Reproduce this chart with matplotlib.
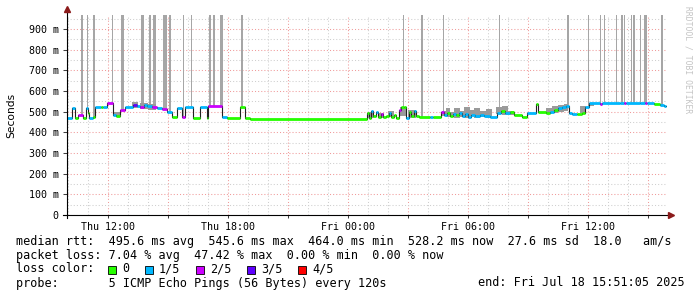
import numpy as np
import matplotlib.pyplot as plt
from matplotlib.patches import Rectangle
from matplotlib.lines import Line2D

# time in hours since Thu 00:00, median rtt in ms, loss level (lost pings out of 5)
seg_start = [9.94, 10.19, 10.34, 10.49, 10.74, 10.89, 10.96, 11.04, 11.24, 11.34,
             11.64, 11.74, 11.94, 12.24, 12.39, 12.59, 12.84, 13.24, 13.44, 13.59,
             13.79, 13.94, 14.19, 14.44, 14.69, 14.94, 15.19, 15.44, 15.69, 15.84,
             16.24, 16.59, 16.94, 16.99, 17.69, 17.94, 18.59, 18.84, 19.09, 24.94,
             25.04, 25.14, 25.24, 25.39, 25.49, 25.64, 25.74, 25.89, 26.04, 26.14,
             26.29, 26.39, 26.54, 26.64, 26.79, 26.89, 27.04, 27.14, 27.29, 27.39,
             27.54, 28.09, 28.24, 28.64, 28.79, 28.94, 29.09, 29.24, 29.39, 29.54,
             29.69, 29.84, 29.99, 30.14, 30.34, 30.59, 30.79, 31.09, 31.44, 31.64,
             31.84, 32.09, 32.29, 32.69, 32.94, 33.39, 33.49, 33.89, 34.09, 34.29,
             34.49, 34.69, 34.89, 35.04, 35.19, 35.44, 35.69, 35.84, 36.04, 36.59,
             36.69, 37.59, 37.79, 37.89, 38.59, 38.84, 38.94, 39.29, 39.59, 39.79]
seg_rtt = [468, 517, 468, 484, 468, 517, 493, 470, 475, 521,
           521, 521, 540, 484, 478, 508, 524, 532, 528, 524,
           530, 528, 522, 517, 512, 498, 473, 517, 473, 524,
           468, 520, 468, 527, 473, 468, 520, 468, 465, 495,
           470, 505, 478, 500, 472, 490, 472, 480, 495, 475,
           485, 470, 510, 524, 520, 470, 500, 480, 505, 478,
           473, 475, 473, 500, 482, 495, 478, 490, 482, 495,
           478, 490, 475, 485, 480, 485, 478, 475, 495, 505,
           495, 500, 484, 476, 492, 535, 500, 495, 500, 510,
           515, 520, 525, 493, 490, 488, 495, 520, 540, 538,
           540, 541, 540, 541, 540, 542, 540, 535, 533, 525]
seg_loss = [1, 1, 0, 2, 0, 1, 0, 1, 0, 1,
            0, 1, 2, 1, 0, 2, 1, 3, 1, 2,
            1, 1, 2, 1, 2, 1, 0, 1, 2, 1,
            0, 1, 0, 2, 1, 0, 0, 0, 0, 0,
            0, 1, 0, 1, 0, 2, 0, 0, 1, 0,
            0, 0, 2, 0, 0, 1, 0, 0, 1, 0,
            0, 1, 0, 2, 1, 0, 0, 1, 0, 1,
            1, 1, 1, 1, 1, 1, 1, 1, 1, 0,
            1, 0, 0, 0, 1, 0, 0, 0, 1, 0,
            1, 1, 1, 1, 1, 0, 0, 1, 1, 2,
            1, 1, 2, 1, 1, 2, 1, 0, 1, 1]
data_end = 39.86  # Fri 15:51

# lost pings: tall smoke columns (centre hour, width in hours)
spike_at = [10.66, 10.94, 11.29, 12.19, 12.71, 13.71, 14.09, 14.31, 14.84, 15.09,
            15.74, 16.14, 17.09, 17.29, 17.66, 18.69, 26.76, 27.69, 28.76, 31.56,
            34.99, 36.01, 36.61, 36.81, 37.41, 37.69, 37.81, 38.17, 38.29, 38.61,
            38.87, 39.69]
spike_w = [0.10, 0.05, 0.10, 0.05, 0.15, 0.15, 0.12, 0.15, 0.20, 0.10,
           0.05, 0.05, 0.10, 0.10, 0.15, 0.10, 0.05, 0.10, 0.05, 0.05,
           0.10, 0.05, 0.05, 0.05, 0.05, 0.10, 0.05, 0.05, 0.10, 0.05,
           0.15, 0.10]
spike_top = 1000

# smoke (spread of the 5 pings)
smoke_from = [12.3, 13.2, 13.6, 14.0,
              25.0, 25.5, 26.0, 26.6, 27.0,
              28.7, 28.9, 29.1, 29.3, 29.6, 29.8, 30.1, 30.3, 30.6, 30.9,
              31.4, 31.7, 32.0, 33.9, 34.2, 34.5, 34.8, 35.6, 36.0]
smoke_to = [12.6, 13.5, 14.0, 14.4,
            25.3, 25.8, 26.3, 26.9, 27.4,
            28.9, 29.1, 29.3, 29.6, 29.8, 30.1, 30.3, 30.6, 30.9, 31.2,
            31.7, 32.0, 32.3, 34.2, 34.5, 34.8, 35.0, 35.9, 36.3]
smoke_lo = [478, 515, 512, 510,
            470, 470, 472, 480, 470,
            478, 472, 475, 470, 472, 470, 478, 470, 472, 470,
            488, 485, 482, 488, 495, 500, 505, 495, 525]
smoke_hi = [500, 545, 540, 535,
            500, 495, 505, 520, 510,
            505, 515, 500, 518, 505, 520, 510, 515, 505, 512,
            520, 525, 505, 515, 525, 530, 535, 525, 535]

loss_colors = ['#26ff00', '#00b8ff', '#cc00ff', '#5e00ff', '#ff0000']
loss_labels = ['0', '1/5', '2/5', '3/5', '4/5']

W, H = 697, 297
mono = 'DejaVu Sans Mono'

fig = plt.figure(figsize=(W / 100, H / 100), dpi=100)
ax = fig.add_axes([67 / W, 82 / H, 600 / W, 200 / H])
ax.set_xlim(9.935, 39.935)
ax.set_ylim(0, 967)

starts = np.array(seg_start)
ends = np.append(starts[1:], data_end)
rtt = np.array(seg_rtt)

# smoke columns for lost pings
idx = np.searchsorted(starts, spike_at, side='right') - 1
bottoms = rtt[idx]
ax.bar(spike_at, spike_top - bottoms, bottom=bottoms, width=spike_w,
       color='#a6a6a6', linewidth=0, zorder=2)

for a, b, lo, hi in zip(smoke_from, smoke_to, smoke_lo, smoke_hi):
    ax.fill_between([a, b], lo, hi, color='#9a9a9a', linewidth=0, zorder=2)

# median line
ax.step(np.append(starts, data_end), np.append(rtt, rtt[-1]), where='post',
        color='#202020', lw=0.8, zorder=3)
ax.hlines(rtt, starts, ends, colors=[loss_colors[l] for l in seg_loss],
          lw=2.0, zorder=4)

# grid
ax.set_yticks(np.arange(0, 901, 100))
ax.set_yticklabels(['0'] + [f'{v} m' for v in range(100, 901, 100)])
ax.set_yticks(np.arange(50, 951, 50), minor=True)
ax.set_xticks(np.arange(12, 40, 3))
ax.set_xticklabels(['Thu 12:00', '', 'Thu 18:00', '', 'Fri 00:00', '',
                    'Fri 06:00', '', 'Fri 12:00', ''])
ax.set_xticks(np.arange(10, 40, 1), minor=True)
ax.grid(which='minor', color='#cfcfcf', ls=(0, (1, 2)), lw=0.75)
ax.grid(which='major', color='#f09a9a', ls=(0, (1, 2)), lw=0.75)
ax.set_axisbelow(True)

for s in ['top', 'right', 'left', 'bottom']:
    ax.spines[s].set_visible(False)
ax.tick_params(axis='y', which='major', length=3, width=0.75, pad=3,
               labelsize=7.2, color='#404040')
ax.tick_params(axis='x', which='major', length=2, width=0.75, pad=3,
               labelsize=7.2, color='#404040')
ax.tick_params(which='minor', length=0)
for lab in ax.get_xticklabels() + ax.get_yticklabels():
    lab.set_fontfamily(mono)

# axes with arrows
ax.add_line(Line2D([0, 0], [-0.015, 1.02], transform=ax.transAxes, color='black',
                   lw=0.8, clip_on=False, zorder=5))
ax.add_line(Line2D([-0.007, 1.004], [0, 0], transform=ax.transAxes, color='black',
                   lw=0.8, clip_on=False, zorder=5))
ax.plot([0], [1.03], marker='^', ms=4.5, color='#8b1a1a', transform=ax.transAxes,
        clip_on=False, zorder=6)
ax.plot([1.007], [0], marker='>', ms=4.5, color='#8b1a1a', transform=ax.transAxes,
        clip_on=False, zorder=6)

fig.text(11 / W, 1 - 115 / H, 'Seconds', rotation=90, ha='center', va='center',
         fontsize=7.7, family='DejaVu Sans')
fig.text(688 / W, 1 - 60 / H, 'RRDTOOL / TOBI OETIKER', rotation=270, ha='center',
         va='center', fontsize=5.8, family=mono, color='#c4c4c4')

# legend block
fs = 8.5
fig.text(16 / W, 1 - 241 / H,
         'median rtt:  495.6 ms avg  545.6 ms max  464.0 ms min  528.2 ms now  27.6 ms sd  18.0   am/s',
         fontsize=fs, family=mono, va='center')
fig.text(16 / W, 1 - 255 / H,
         'packet loss: 7.04 % avg  47.42 % max  0.00 % min  0.00 % now',
         fontsize=fs, family=mono, va='center')
fig.text(16 / W, 1 - 269 / H, 'loss color:', fontsize=fs, family=mono, va='center')
box_x = [108, 145, 196, 247, 298]
for bx, c, lab in zip(box_x, loss_colors, loss_labels):
    fig.patches.append(Rectangle((bx / W, 1 - 273.5 / H), 8 / W, 8 / H,
                                 transform=fig.transFigure, facecolor=c,
                                 edgecolor='black', lw=0.6))
    fig.text((bx + 14) / W, 1 - 269 / H, lab, fontsize=fs, family=mono, va='center')
fig.text(16 / W, 1 - 283 / H, 'probe:       5 ICMP Echo Pings (56 Bytes) every 120s',
         fontsize=fs, family=mono, va='center')
fig.text(478 / W, 1 - 283 / H, 'end: Fri Jul 18 15:51:05 2025',
         fontsize=fs, family=mono, va='center')

fig.savefig('out.png', dpi=100, facecolor='white')
